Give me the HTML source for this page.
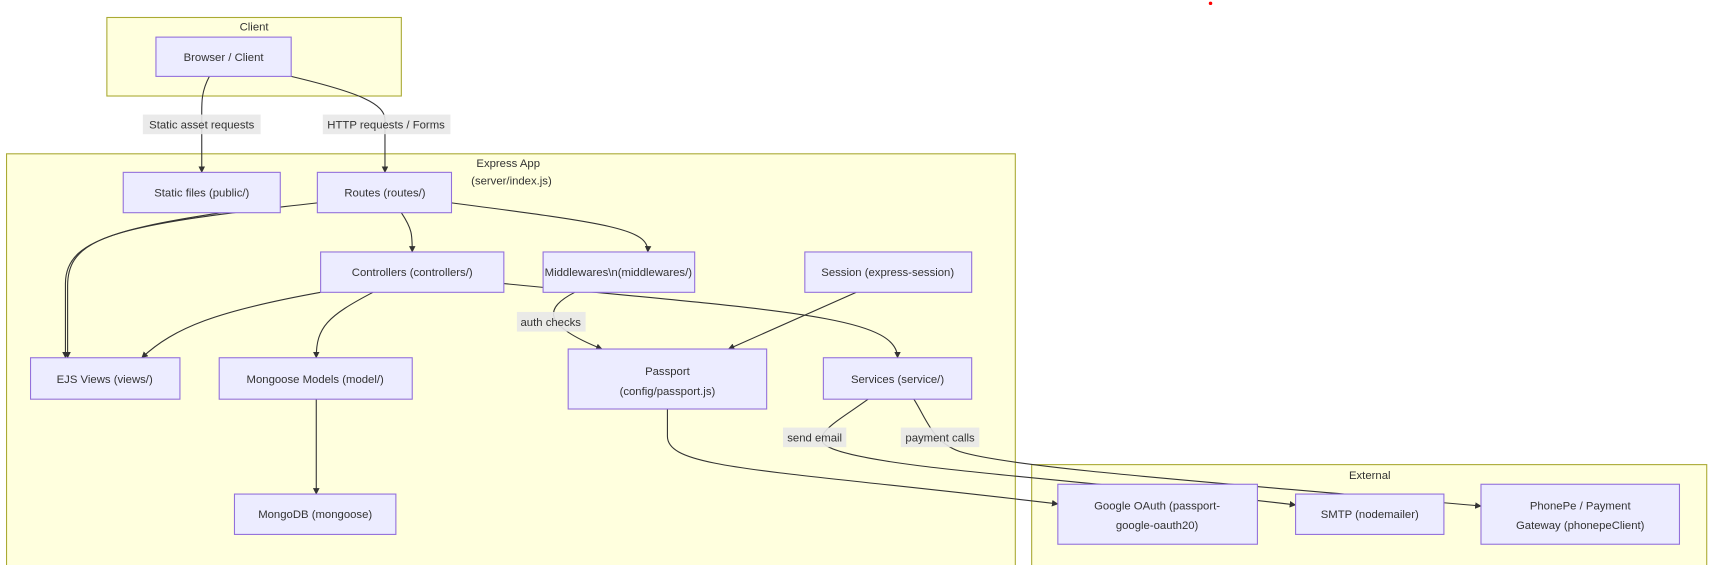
<!DOCTYPE html>
<html><head><meta charset="utf-8"><style>
html,body{margin:0;padding:0;background:#fff;width:1710px;height:565px;overflow:hidden}
text{font-family:"Liberation Sans","DejaVu Sans",sans-serif;font-size:10.4px;fill:#333}
.c{fill:#ffffde;stroke:#aaaa33;stroke-width:1}
.n{fill:#ececff;stroke:#9370db;stroke-width:1}
.e{fill:none;stroke:#333;stroke-width:1}
.lb{fill:#e8e8e8;opacity:.9}
</style></head><body>
<svg width="1710" height="565" viewBox="0 0 1568 518" xmlns="http://www.w3.org/2000/svg">
<defs><marker id="a" viewBox="0 0 10 10" refX="9" refY="5" markerWidth="6" markerHeight="6" orient="auto"><path d="M0,0L10,5L0,10z" fill="#333"/></marker></defs>
<circle cx="1110" cy="3" r="1.6" fill="red"/>
<rect class="c" x="98" y="16" width="270" height="72"/>
<text x="233" y="28" text-anchor="middle">Client</text>
<rect class="c" x="6" y="141" width="925" height="380"/>
<text x="466" y="153" text-anchor="middle">Express App</text>
<text x="469" y="169" text-anchor="middle">(server/index.js)</text>
<rect class="c" x="946" y="426" width="619" height="95"/>
<text x="1256" y="439" text-anchor="middle">External</text>

<g class="e" marker-end="url(#a)">
<path d="M192,70 C184,85 185,95 185,110 L185,158"/>
<path d="M267,70 C330,85 353,95 353,110 L353,158"/>
<path d="M291,186 C120,205 60,215 60,260 L60,328"/>
<path d="M203,195 C90,212 62,225 62,262 L62,328"/>
<path d="M368,195 C378,210 378,215 378,231"/>
<path d="M414,186 C560,205 595,210 594,231"/>
<path d="M294,268 C200,285 160,300 130,328"/>
<path d="M342,268 C300,290 290,300 290,328"/>
<path d="M462,260 C720,285 823,290 823,328"/>
<path d="M527,268 C500,282 495,297 552,320"/>
<path d="M785,268 L668,320"/>
<path d="M290,366 L290,453"/>
<path d="M612,375 L612,400 C612,430 700,430 970,462"/>
<path d="M796,366 C770,385 740,400 760,410 C800,430 1000,440 1188,463"/>
<path d="M838,366 C850,385 855,405 880,414 C930,430 1150,445 1358,464"/>
</g>

<rect class="lb" x="131" y="105" width="108" height="18"/><text x="185" y="118" text-anchor="middle">Static asset requests</text>
<rect class="lb" x="296" y="105" width="117" height="18"/><text x="354" y="118" text-anchor="middle">HTTP requests / Forms</text>
<rect class="lb" x="474" y="286" width="63" height="18"/><text x="505" y="299" text-anchor="middle">auth checks</text>
<rect class="lb" x="718" y="392" width="58" height="18"/><text x="747" y="405" text-anchor="middle">send email</text>
<rect class="lb" x="826" y="392" width="72" height="18"/><text x="862" y="405" text-anchor="middle">payment calls</text>

<rect class="n" x="143" y="34" width="124" height="36"/><text x="205" y="56" text-anchor="middle">Browser / Client</text>
<rect class="n" x="113" y="158" width="144" height="37"/><text x="185" y="180" text-anchor="middle">Static files (public/)</text>
<rect class="n" x="291" y="158" width="123" height="37"/><text x="353" y="180" text-anchor="middle">Routes (routes/)</text>
<rect class="n" x="294" y="231" width="168" height="37"/><text x="378" y="253" text-anchor="middle">Controllers (controllers/)</text>
<rect class="n" x="498" y="231" width="139" height="37"/><text x="567" y="253" text-anchor="middle">Middlewares\n(middlewares/)</text>
<rect class="n" x="738" y="231" width="153" height="37"/><text x="814" y="253" text-anchor="middle">Session (express-session)</text>
<rect class="n" x="28" y="328" width="137" height="38"/><text x="96" y="351" text-anchor="middle">EJS Views (views/)</text>
<rect class="n" x="201" y="328" width="177" height="38"/><text x="289" y="351" text-anchor="middle">Mongoose Models (model/)</text>
<rect class="n" x="521" y="320" width="182" height="55"/><text x="612" y="344" text-anchor="middle">Passport</text><text x="612" y="362" text-anchor="middle">(config/passport.js)</text>
<rect class="n" x="755" y="328" width="136" height="38"/><text x="823" y="351" text-anchor="middle">Services (service/)</text>
<rect class="n" x="215" y="453" width="148" height="37"/><text x="289" y="475" text-anchor="middle">MongoDB (mongoose)</text>
<rect class="n" x="970" y="444" width="183" height="55"/><text x="1061" y="467" text-anchor="middle">Google OAuth (passport-</text><text x="1061" y="485" text-anchor="middle">google-oauth20)</text>
<rect class="n" x="1188" y="453" width="136" height="37"/><text x="1256" y="475" text-anchor="middle">SMTP (nodemailer)</text>
<rect class="n" x="1358" y="444" width="182" height="55"/><text x="1449" y="467" text-anchor="middle">PhonePe / Payment</text><text x="1449" y="485" text-anchor="middle">Gateway (phonepeClient)</text>
</svg>
</body></html>
